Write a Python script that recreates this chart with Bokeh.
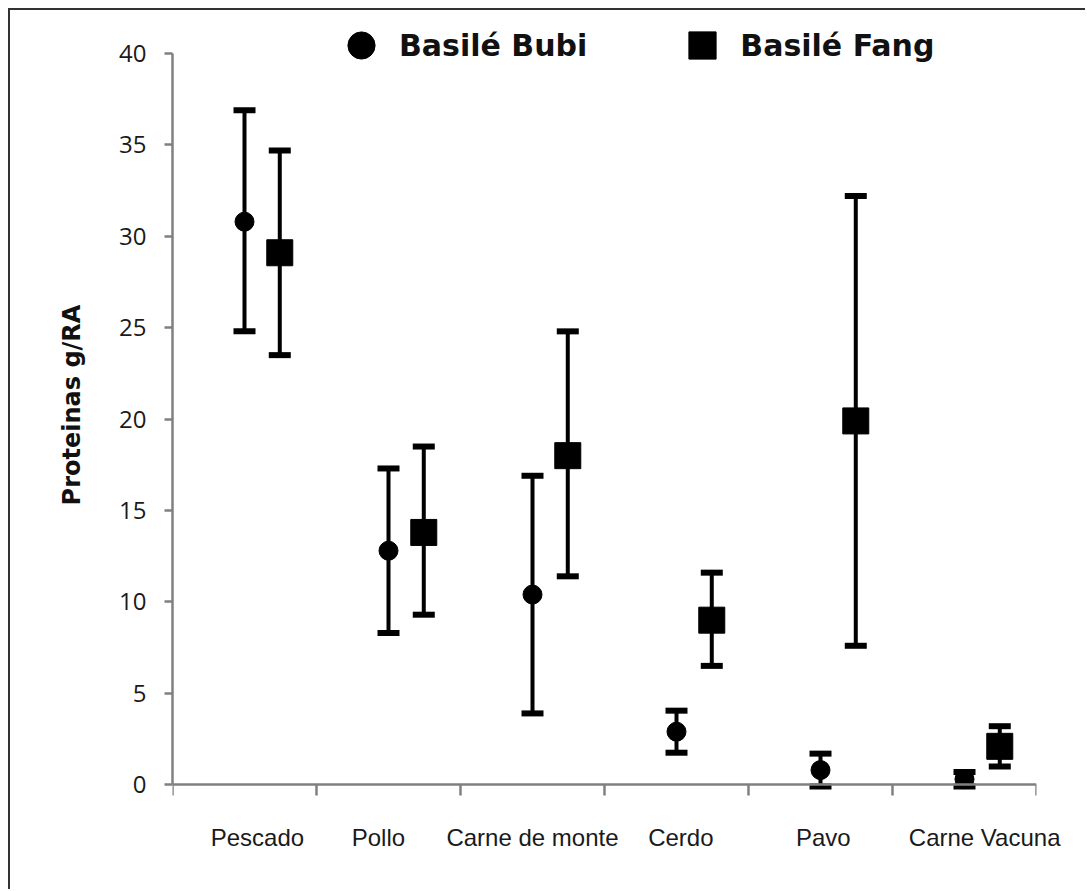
from bokeh.plotting import figure
from bokeh.models import Range1d, LinearAxis, FixedTicker, Legend, LegendItem, ColumnDataSource
from bokeh.embed import file_html
from bokeh.resources import INLINE

# ---- data ----
categories = ["Pescado", "Pollo", "Carne de monte", "Cerdo", "Pavo", "Carne Vacuna"]
bubi_mean = [30.8, 12.8, 10.4, 2.9, 0.8, 0.3]
bubi_low = [24.8, 8.3, 3.9, 1.75, -0.1, -0.1]
bubi_high = [36.9, 17.3, 16.9, 4.05, 1.7, 0.7]
fang_mean = [29.1, 13.8, 18.0, 9.0, 19.9, 2.1]
fang_low = [23.5, 9.3, 11.4, 6.5, 7.6, 1.0]
fang_high = [34.7, 18.5, 24.8, 11.6, 32.2, 3.2]
y_ticks = [0, 5, 10, 15, 20, 25, 30, 35, 40]
series_names = ["Basilé Bubi", "Basilé Fang"]

# ---- layout / style ----
OX, OY = 10, 10          # page offset of the figure (margin + border)
W, H = 1087 - OX, 891 - OY
Y0_PAGE, Y40_PAGE = 784, 53      # page pixels of y=0 and y=40
PX_PER = (Y0_PAGE - Y40_PAGE) / 40.0
FRAME_TOP_PAGE = OY + 2
Y_START = -0.7
Y_END = (Y0_PAGE - FRAME_TOP_PAGE) / PX_PER
FRAME_BOTTOM_PAGE = int(round(Y0_PAGE + (-Y_START) * PX_PER))

bubi_offset, fang_offset = 0.5, 0.745
label_shift = [0.09, -0.07, 0.0, 0.03, 0.02, 0.14]
AXIS_COL = "#808080"

n = len(categories)
bx = [i + bubi_offset for i in range(n)]
fx = [i + fang_offset for i in range(n)]

bubi_src = ColumnDataSource(dict(x=bx, y=bubi_mean, lo=bubi_low, hi=bubi_high))
fang_src = ColumnDataSource(dict(x=fx, y=fang_mean, lo=fang_low, hi=fang_high))

p = figure(width=W, height=H, x_range=Range1d(0, n), y_range=Range1d(Y_START, Y_END),
           x_axis_type=None, y_axis_type=None, output_backend="svg",
           toolbar_location=None,
           min_border_left=172 - OX, min_border_right=1087 - 1036,
           min_border_top=FRAME_TOP_PAGE - OY,
           min_border_bottom=891 - FRAME_BOTTOM_PAGE)
p.outline_line_color = None
p.background_fill_color = "white"
p.border_fill_color = "white"
p.styles = {"margin-left": "8px", "margin-top": "8px",
            "border-left": "2px solid #333333", "border-top": "2px solid #333333"}

# y axis
yaxis = LinearAxis(ticker=FixedTicker(ticks=y_ticks), bounds=(0, 40),
                   axis_line_color=AXIS_COL, axis_line_width=2.5,
                   major_tick_line_color=AXIS_COL, major_tick_line_width=2.5,
                   major_tick_in=0, major_tick_out=8,
                   minor_tick_line_color=None,
                   major_label_text_font="Open Sans",
                   major_label_text_font_size="24px",
                   major_label_text_color="#1a1a1a",
                   major_label_standoff=18,
                   axis_label="Proteinas g/RA",
                   axis_label_text_font="DejaVu Sans",
                   axis_label_text_font_style="bold",
                   axis_label_text_font_size="24px",
                   axis_label_text_color="#111111",
                   axis_label_standoff=30)
p.add_layout(yaxis, "left")

# x axis line + boundary ticks, drawn at y = 0
boundaries = list(range(n + 1))
xline = LinearAxis(ticker=FixedTicker(ticks=boundaries),
                   major_label_overrides={b: "" for b in boundaries},
                   fixed_location=0,
                   axis_line_color=AXIS_COL, axis_line_width=2.5,
                   major_tick_line_color=AXIS_COL, major_tick_line_width=2.5,
                   major_tick_in=0, major_tick_out=11,
                   minor_tick_line_color=None,
                   major_label_text_color=None)
p.add_layout(xline, "below")

# category labels in the panel under the frame
label_pos = [round(i + 0.5 + s, 3) for i, s in enumerate(label_shift)]
xlabels = LinearAxis(ticker=FixedTicker(ticks=label_pos),
                     major_label_overrides={pos: c for pos, c in zip(label_pos, categories)},
                     axis_line_color=None, major_tick_line_color=None,
                     minor_tick_line_color=None, major_tick_in=0, major_tick_out=0,
                     major_label_text_font="Liberation Sans",
                     major_label_text_font_size="24px",
                     major_label_text_color="#1a1a1a",
                     major_label_standoff=26)
p.add_layout(xlabels, "below")

# error bars
for src in (bubi_src, fang_src):
    p.segment(x0="x", y0="lo", x1="x", y1="hi", source=src, line_color="black", line_width=4)
    p.scatter(x="x", y="lo", source=src, marker="dash", size=22, line_width=6, line_color="black")
    p.scatter(x="x", y="hi", source=src, marker="dash", size=22, line_width=6, line_color="black")

r_bubi = p.scatter(x="x", y="y", source=bubi_src, marker="circle", size=19,
                   fill_color="black", line_color="black")
r_fang = p.scatter(x="x", y="y", source=fang_src, marker="square", size=26,
                   fill_color="black", line_color="black")

legend = Legend(items=[LegendItem(label=series_names[0], renderers=[r_bubi]),
                       LegendItem(label=series_names[1], renderers=[r_fang])],
                orientation="horizontal",
                location=(155, FRAME_BOTTOM_PAGE - 79),
                glyph_width=68, glyph_height=68, label_standoff=4, spacing=81,
                padding=0, margin=0, border_line_color=None, background_fill_alpha=0,
                label_text_font="DejaVu Sans", label_text_font_style="bold",
                label_text_font_size="30px", label_text_color="#111111")
p.add_layout(legend)

open("out.html", "w").write(file_html(p, INLINE))
